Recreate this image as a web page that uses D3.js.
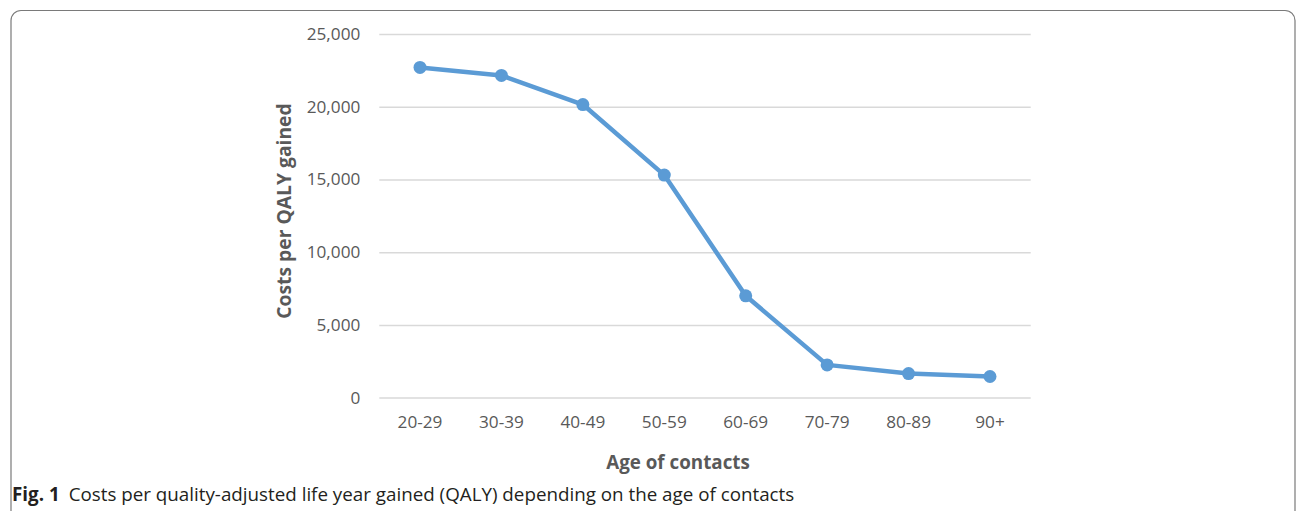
<!DOCTYPE html>
<html>
<head>
<meta charset="utf-8">
<script src="https://cdn.jsdelivr.net/npm/d3@7"></script>
<style>
  html, body { margin: 0; padding: 0; background: #fff; }
  svg { display: block; }
</style>
</head>
<body>
<svg id="chart" width="1296" height="511"></svg>
<script>
const categories = ["20-29", "30-39", "40-49", "50-59", "60-69", "70-79", "80-89", "90+"];
const costs = [22700, 22150, 20150, 15300, 7000, 2250, 1650, 1450];
const yTicks = [0, 5000, 10000, 15000, 20000, 25000];
const yTitle = "Costs per QALY gained";
const xTitle = "Age of contacts";
const captionBold = "Fig. 1";
const captionText = "Costs per quality-adjusted life year gained (QALY) depending on the age of contacts";

const svg = d3.select("#chart");

// frame
svg.append("rect")
  .attr("x", 11).attr("y", 10.5)
  .attr("width", 1284).attr("height", 540)
  .attr("rx", 10).attr("ry", 10)
  .attr("fill", "none").attr("stroke", "#7a7a7a").attr("stroke-width", 1.2);

const plotLeft = 379.3, plotRight = 1030.7, plotTop = 34, plotBottom = 397.6;

const x = d3.scaleBand().domain(categories).range([plotLeft, plotRight]).padding(0);
const y = d3.scaleLinear().domain([0, 25000]).range([plotBottom, plotTop]);

const font = "'Open Sans', sans-serif";

// gridlines + y labels
const yAxis = d3.axisLeft(y).tickValues(yTicks).tickSize(-(plotRight - plotLeft)).tickPadding(20)
  .tickFormat(d3.format(","));
const gy = svg.append("g").attr("transform", `translate(${plotLeft},0)`).call(yAxis);
gy.select(".domain").remove();
gy.selectAll(".tick line").attr("stroke", "#d9d9d9").attr("stroke-width", 1.5);
gy.selectAll(".tick text")
  .attr("fill", "#595959").attr("font-family", font).attr("font-size", 17.2)
  .attr("x", -19);

const xAxis = d3.axisBottom(x).tickSize(0).tickPadding(18);
const gx = svg.append("g").attr("transform", `translate(0,${plotBottom})`).call(xAxis);
gx.select(".domain").remove();
gx.selectAll(".tick text")
  .attr("fill", "#595959").attr("font-family", font).attr("font-size", 17.2);

// line
const cx = (d, i) => x(categories[i]) + x.bandwidth() / 2;
const line = d3.line().x(cx).y(d => y(d));
svg.append("path").datum(costs)
  .attr("d", line)
  .attr("fill", "none").attr("stroke", "#5b9bd5").attr("stroke-width", 4.5)
  .attr("stroke-linejoin", "round");

svg.selectAll("circle.pt").data(costs).enter().append("circle")
  .attr("class", "pt")
  .attr("cx", cx)
  .attr("cy", d => y(d))
  .attr("r", 6.5)
  .attr("fill", "#5b9bd5");

// axis titles
svg.append("text")
  .attr("transform", `translate(291,211) rotate(-90)`)
  .attr("text-anchor", "middle")
  .attr("font-family", font).attr("font-weight", "bold").attr("font-size", 19.3)
  .attr("fill", "#595959")
  .text(yTitle);

svg.append("text")
  .attr("x", 678).attr("y", 469)
  .attr("text-anchor", "middle")
  .attr("font-family", font).attr("font-weight", "bold").attr("font-size", 18.8)
  .attr("fill", "#595959")
  .text(xTitle);

// caption
const cap = svg.append("text")
  .attr("x", 12).attr("y", 501)
  .attr("font-family", font).attr("font-size", 18.8).attr("fill", "#231f20");
cap.append("tspan").attr("font-weight", "bold").text(captionBold);
cap.append("tspan").attr("dx", 9).text(captionText);
</script>
</body>
</html>
